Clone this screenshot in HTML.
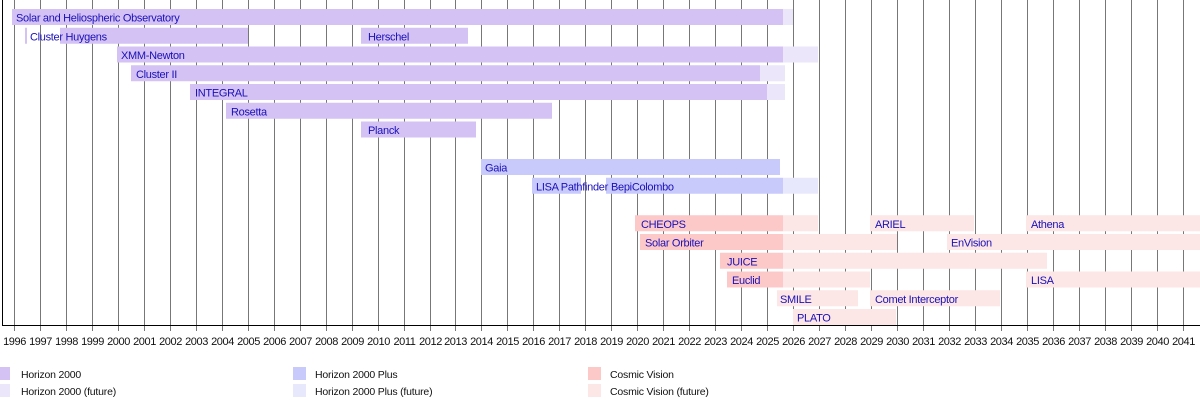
<!DOCTYPE html>
<html><head><meta charset="utf-8"><style>
body{margin:0;background:#fff}
svg{display:block;font-family:"Liberation Sans",sans-serif}
</style></head><body>
<svg width="1200" height="407" xmlns="http://www.w3.org/2000/svg">
<g id="grid" stroke="#777" stroke-width="1"></g>
<g id="bars"></g>
<g id="labels" font-size="11" fill="#1a10b8" letter-spacing="-0.3"></g>
<line x1="2.5" y1="0" x2="2.5" y2="325" stroke="#000"/>
<line x1="2" y1="325.5" x2="1200" y2="325.5" stroke="#000"/>
<g id="ticks" font-size="11" fill="#111" text-anchor="middle" letter-spacing="-0.4"></g>
<g font-size="10.5" fill="#111" letter-spacing="-0.2">
<rect x="0" y="367" width="10" height="13" fill="#d4c2f5"/><text x="21" y="378">Horizon 2000</text>
<rect x="0" y="384" width="10" height="13" fill="#ece6fb"/><text x="21" y="395">Horizon 2000 (future)</text>
<rect x="293" y="367" width="13" height="13" fill="#c8cafc"/><text x="315" y="378">Horizon 2000 Plus</text>
<rect x="293" y="384" width="13" height="13" fill="#e8e8fc"/><text x="315" y="395">Horizon 2000 Plus (future)</text>
<rect x="588" y="367" width="13" height="13" fill="#fcc8c8"/><text x="610" y="378">Cosmic Vision</text>
<rect x="588" y="384" width="13" height="13" fill="#fce6e6"/><text x="610" y="395">Cosmic Vision (future)</text>
</g>
</svg>
<script>
const NS="http://www.w3.org/2000/svg";
const g=document.getElementById('grid'),tk=document.getElementById('ticks'),b=document.getElementById('bars'),lb=document.getElementById('labels');
function el(p,t,a,txt){const e=document.createElementNS(NS,t);for(const k in a)e.setAttribute(k,a[k]);if(txt)e.textContent=txt;p.appendChild(e);return e;}
for(let y=1996;y<=2041;y++){const x=Math.round(14+(y-1996)*25.97)+0.5;
el(g,'line',{x1:x,y1:0,x2:x,y2:331});el(tk,'text',{x:x,y:345},String(y));}
const C={h:'#d4c2f5',hf:'#ece6fb',p:'#c8cafc',pf:'#e8e8fc',c:'#fcc8c8',cf:'#fce6e6'};
const row=i=>9+18.75*i;
const bars=[
[0,12,783,'h'],[0,783,793,'hf'],
[1,25,27,'h'],[1,60,248,'h'],[1,361,468,'h'],
[2,117,783,'h'],[2,783,818,'hf'],
[3,131,760,'h'],[3,760,785,'hf'],
[4,190,767,'h'],[4,767,785,'hf'],
[5,226,552,'h'],[6,361,476,'h'],
[8,481,780,'p'],[9,532,581,'p'],[9,606,783,'p'],[9,783,818,'pf'],
[11,635,783,'c'],[11,783,818,'cf'],[11,870,974,'cf'],[11,1026,1200,'cf'],
[12,640,783,'c'],[12,783,897,'cf'],[12,947,1200,'cf'],
[13,720,783,'c'],[13,783,1047,'cf'],
[14,727,783,'c'],[14,783,870,'cf'],[14,1026,1200,'cf'],
[15,777,858,'cf'],[15,870,1000,'cf'],
[16,793,896,'cf']];
bars.forEach(([r,x1,x2,c])=>el(b,'rect',{x:x1,y:row(r),width:x2-x1,height:16,fill:C[c]}));
const labs=[[0,16,'Solar and Heliospheric Observatory'],[1,30,'Cluster Huygens'],[1,368,'Herschel'],
[2,121,'XMM-Newton'],[3,136,'Cluster II'],[4,195,'INTEGRAL'],[5,231,'Rosetta'],[6,368,'Planck'],
[8,485,'Gaia'],[9,536,'LISA Pathfinder'],[9,611,'BepiColombo'],
[11,641,'CHEOPS'],[11,875,'ARIEL'],[11,1031,'Athena'],
[12,645,'Solar Orbiter'],[12,951,'EnVision'],[13,727,'JUICE'],
[14,732,'Euclid'],[14,1031,'LISA'],[15,780,'SMILE'],[15,875,'Comet Interceptor'],[16,797,'PLATO']];
labs.forEach(([r,x,t])=>el(lb,'text',{x:x,y:row(r)+12.5},t));
</script>
</body></html>
